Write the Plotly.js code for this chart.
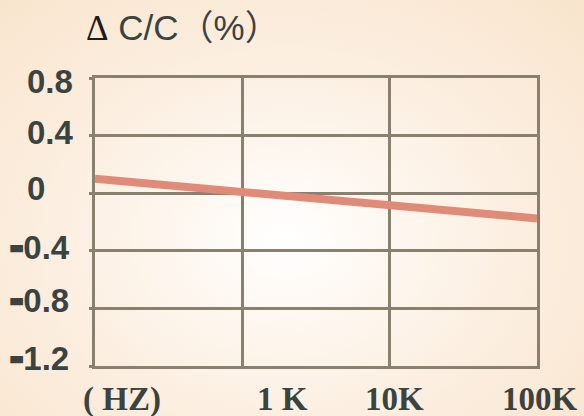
<!DOCTYPE html>
<html>
<head>
<meta charset="utf-8">
<script src="https://cdn.plot.ly/plotly-3.0.1.min.js"></script>
<style>
  html, body { margin:0; padding:0; }
  body { width:584px; height:416px; overflow:hidden;
    background: radial-gradient(ellipse 420px 330px at 285px 240px, #ffffff 0%, #fdf4ea 35%, #fbecdc 65%, #f9e5cd 100%); }
  #chart { width:584px; height:416px; }
</style>
</head>
<body>
<div id="chart"></div>
<script>
// ---- data ----
const freqs = [100, 1000, 10000, 100000];          // Hz
const dCC = [0.10, 0.01, -0.083, -0.175];           // ΔC/C (%)
const xTickText = ["( HZ)", "1 K", "10K", "100K"];
const yTickVals = [0.8, 0.4, 0, -0.4, -0.8, -1.2];
const yTickText = ["0.8", "0.4", "0", "-0.4", "-0.8", "-1.2"];

// ---- label placement offsets (px), style only ----
const xLabelShift = [27, 40, 5, 3];
const yLabelShift = [-3, 3, 5, 6, 10, 10];

const textColor = "#3b4341";
const gridColor = "#8a8070";

function fmtY(t) {
  // render the leading minus as a wide, heavy dash like the reference
  if (t.startsWith("-")) {
    return "<span style='font-size:40px;stroke:" + textColor + ";stroke-width:2.5px'>-</span>" + t.slice(1);
  }
  return t;
}

const annotations = [];
freqs.forEach((f, i) => {
  annotations.push({
    xref: "x", yref: "paper", x: Math.log10(f), y: 0,
    xanchor: "center", yanchor: "middle", yshift: -33, xshift: xLabelShift[i],
    showarrow: false, text: "<b>" + xTickText[i] + "</b>",
    font: {family: "Liberation Serif", size: 33, color: textColor}
  });
});
yTickVals.forEach((v, i) => {
  const neg = yTickText[i].startsWith("-");
  annotations.push({
    xref: "paper", yref: "y", x: 0, y: v,
    xanchor: "left", yanchor: "middle",
    xshift: neg ? -87 : -70, yshift: yLabelShift[i],
    showarrow: false, text: "<b>" + fmtY(yTickText[i]) + "</b>",
    font: {family: "Liberation Sans", size: 33, color: textColor}
  });
});
annotations.push({
  xref: "paper", yref: "paper", x: 0, y: 1, xanchor: "left", yanchor: "middle",
  xshift: -11, yshift: 54, showarrow: false,
  text: "<span style='font-family:Liberation Serif;fill:#1c1c1c'>Δ</span> C/C<span style='font-family:Noto Sans CJK SC'>（</span>%<span style='font-family:Noto Sans CJK SC'>）</span>",
  font: {family: "Liberation Sans", size: 35, color: textColor}
});

const trace = {
  x: freqs, y: dCC, type: "scatter", mode: "lines",
  line: {color: "#e08b77", width: 8}, hoverinfo: "skip"
};

const layout = {
  width: 584, height: 416,
  margin: {l: 95, r: 47, t: 78, b: 50},
  paper_bgcolor: "rgba(0,0,0,0)", plot_bgcolor: "rgba(0,0,0,0)",
  showlegend: false,
  xaxis: {
    type: "log", range: [2, 5], tickvals: freqs, showticklabels: false,
    showgrid: true, gridcolor: gridColor, gridwidth: 3,
    showline: true, linecolor: gridColor, linewidth: 3, mirror: true,
    zeroline: false, ticks: ""
  },
  yaxis: {
    range: [-1.2, 0.8], tickvals: yTickVals, showticklabels: false,
    showgrid: true, gridcolor: gridColor, gridwidth: 3,
    showline: true, linecolor: gridColor, linewidth: 3, mirror: true,
    zeroline: false, ticks: "outside", ticklen: 3, tickwidth: 3, tickcolor: gridColor
  },
  annotations: annotations
};

Plotly.newPlot("chart", [trace], layout, {displayModeBar: false, staticPlot: true});
</script>
</body>
</html>
